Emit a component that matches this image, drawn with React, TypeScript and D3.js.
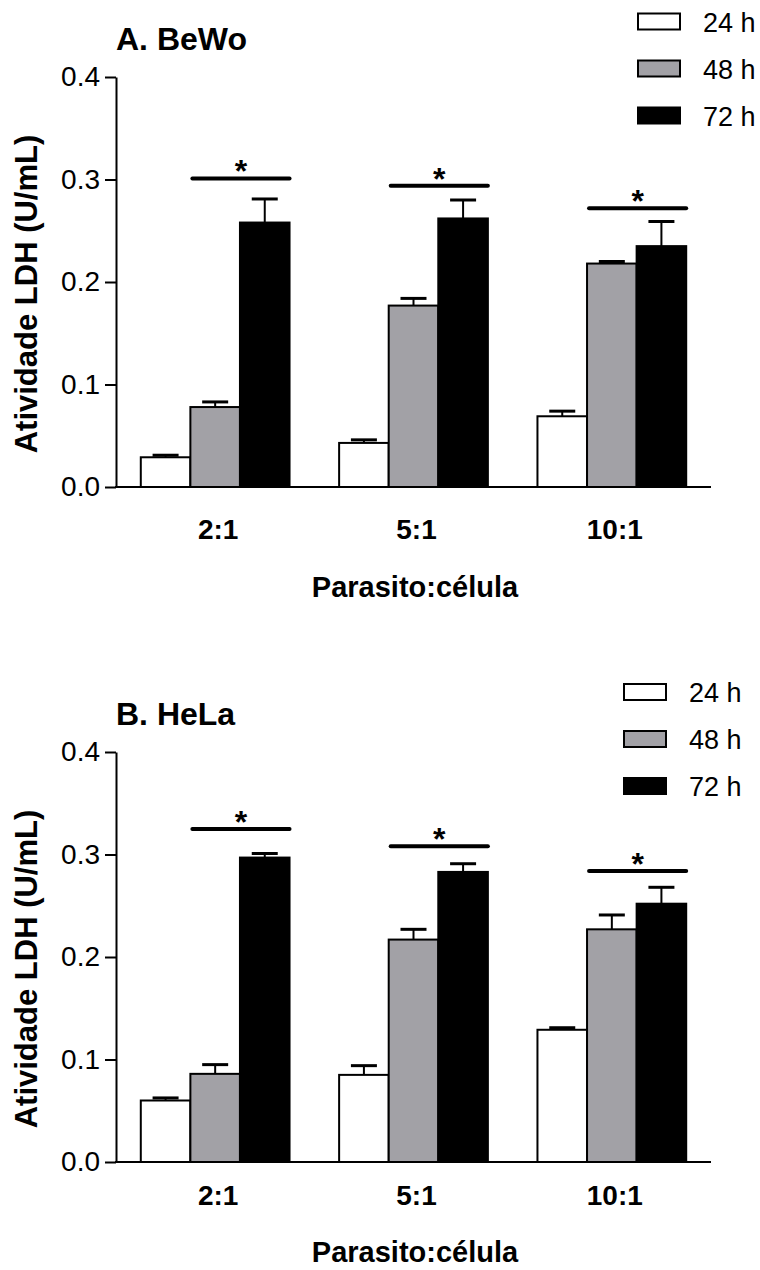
import { useEffect, useRef } from 'react';
import * as d3 from 'd3';

const categories = ['2:1', '5:1', '10:1'];
const seriesNames = ['24 h', '48 h', '72 h'];
const seriesFills = ['#ffffff', '#a2a1a6', '#000000'];
const yTicks = [0, 0.1, 0.2, 0.3, 0.4];

// A. BeWo
const bewo24 = [0.029, 0.043, 0.069];
const bewo48 = [0.078, 0.177, 0.218];
const bewo72 = [0.258, 0.262, 0.235];
const bewoErr24 = [0.002, 0.003, 0.005];
const bewoErr48 = [0.005, 0.007, 0.002];
const bewoErr72 = [0.023, 0.018, 0.024];
const bewoSig = [0.301, 0.294, 0.272];

// B. HeLa
const hela24 = [0.06, 0.085, 0.129];
const hela48 = [0.086, 0.217, 0.227];
const hela72 = [0.297, 0.283, 0.252];
const helaErr24 = [0.0025, 0.009, 0.002];
const helaErr48 = [0.009, 0.01, 0.014];
const helaErr72 = [0.004, 0.008, 0.016];
const helaSig = [0.325, 0.308, 0.284];

const FONT = "'Liberation Sans', Arial, sans-serif";

const panels = [
  {
    title: 'A. BeWo',
    means: [bewo24, bewo48, bewo72],
    errs: [bewoErr24, bewoErr48, bewoErr72],
    sig: bewoSig,
    top: 77, bottom: 487, titleY: 50, legendX: 638, legendY: 13.5,
    catY: 539, xTitleY: 597,
  },
  {
    title: 'B. HeLa',
    means: [hela24, hela48, hela72],
    errs: [helaErr24, helaErr48, helaErr72],
    sig: helaSig,
    top: 752, bottom: 1162, titleY: 725, legendX: 624, legendY: 684,
    catY: 1205, xTitleY: 1262,
  },
];

function drawPanel(svg: any, p: any) {
  const left = 116;
  const right = 711;

  const x = d3.scaleBand().domain(categories).range([left, right]).paddingInner(0.25).paddingOuter(0.125);
  const xs = d3.scaleBand().domain(seriesNames).range([0, x.bandwidth()]);
  const y = d3.scaleLinear().domain([0, 0.4]).range([p.bottom, p.top]);

  const g = svg.append('g');

  // title
  g.append('text')
    .attr('x', left)
    .attr('y', p.titleY)
    .attr('font-size', 32)
    .attr('font-weight', 'bold')
    .text(p.title);

  // bars
  seriesNames.forEach((s, si) => {
    categories.forEach((c, ci) => {
      const v = p.means[si][ci];
      const e = p.errs[si][ci];
      const bx = (x(c) as number) + (xs(s) as number);
      const cx = bx + xs.bandwidth() / 2;
      // error bar (upper only)
      g.append('line')
        .attr('x1', cx).attr('x2', cx)
        .attr('y1', y(v)).attr('y2', y(v + e))
        .attr('stroke', '#000').attr('stroke-width', 2);
      g.append('line')
        .attr('x1', cx - 13).attr('x2', cx + 13)
        .attr('y1', y(v + e)).attr('y2', y(v + e))
        .attr('stroke', '#000').attr('stroke-width', 3);
      g.append('rect')
        .attr('x', bx)
        .attr('y', y(v))
        .attr('width', xs.bandwidth())
        .attr('height', y(0) - y(v))
        .attr('fill', seriesFills[si])
        .attr('stroke', '#000')
        .attr('stroke-width', 2);
    });
  });

  // significance lines
  categories.forEach((c, ci) => {
    const x0 = (x(c) as number) + (xs('48 h') as number) + 2;
    const x1 = (x(c) as number) + x.bandwidth();
    const ly = y(p.sig[ci]);
    g.append('line')
      .attr('x1', x0).attr('x2', x1)
      .attr('y1', ly).attr('y2', ly)
      .attr('stroke', '#000').attr('stroke-width', 4)
      .attr('stroke-linecap', 'round');
    g.append('text')
      .attr('x', (x0 + x1) / 2)
      .attr('y', ly + 4)
      .attr('text-anchor', 'middle')
      .attr('font-size', 32)
      .attr('font-weight', 'bold')
      .text('*');
  });

  // y axis
  const yAxis = d3.axisLeft(y)
    .tickValues(yTicks)
    .tickFormat(d3.format('.1f'))
    .tickSize(11)
    .tickSizeOuter(0)
    .tickPadding(5);
  const ya = g.append('g').attr('transform', `translate(${left},0)`).call(yAxis);
  ya.select('.domain').attr('stroke-width', 2);
  ya.selectAll('.tick line').attr('stroke-width', 2);
  ya.selectAll('.tick text')
    .attr('font-size', 28)
    .attr('font-family', FONT)
    .attr('fill', '#000');

  // x axis line
  g.append('line')
    .attr('x1', left - 1).attr('x2', right)
    .attr('y1', p.bottom).attr('y2', p.bottom)
    .attr('stroke', '#000').attr('stroke-width', 2);

  // category labels
  categories.forEach((c) => {
    g.append('text')
      .attr('x', (x(c) as number) + x.bandwidth() / 2 + 3)
      .attr('y', p.catY)
      .attr('text-anchor', 'middle')
      .attr('font-size', 28)
      .attr('font-weight', 'bold')
      .text(c);
  });

  g.append('text')
    .attr('x', 415)
    .attr('y', p.xTitleY)
    .attr('text-anchor', 'middle')
    .attr('font-size', 29)
    .attr('font-weight', 'bold')
    .text('Parasito:célula');

  // y axis title
  g.append('text')
    .attr('transform', `translate(37,${(p.top + p.bottom) / 2 + 12}) rotate(-90)`)
    .attr('text-anchor', 'middle')
    .attr('font-size', 31)
    .attr('font-weight', 'bold')
    .text('Atividade LDH (U/mL)');

  // legend
  seriesNames.forEach((s, si) => {
    const ly = p.legendY + si * 47;
    g.append('rect')
      .attr('x', p.legendX)
      .attr('y', ly)
      .attr('width', 42)
      .attr('height', 16)
      .attr('fill', seriesFills[si])
      .attr('stroke', '#000')
      .attr('stroke-width', 2);
    g.append('text')
      .attr('x', p.legendX + 65)
      .attr('y', ly + 18)
      .attr('font-size', 27)
      .text(s);
  });
}

export default function App() {
  const svgRef = useRef<SVGSVGElement>(null);

  useEffect(() => {
    if (!svgRef.current) return;
    const svg = d3.select(svgRef.current);
    svg.selectAll('*').remove();
    panels.forEach((p) => drawPanel(svg, p));
  }, []);

  return (
    <svg
      ref={svgRef}
      width={760}
      height={1270}
      style={{ position: 'absolute', left: 0, top: 0, background: '#fff', fontFamily: FONT }}
      fontFamily={FONT}
    />
  );
}
